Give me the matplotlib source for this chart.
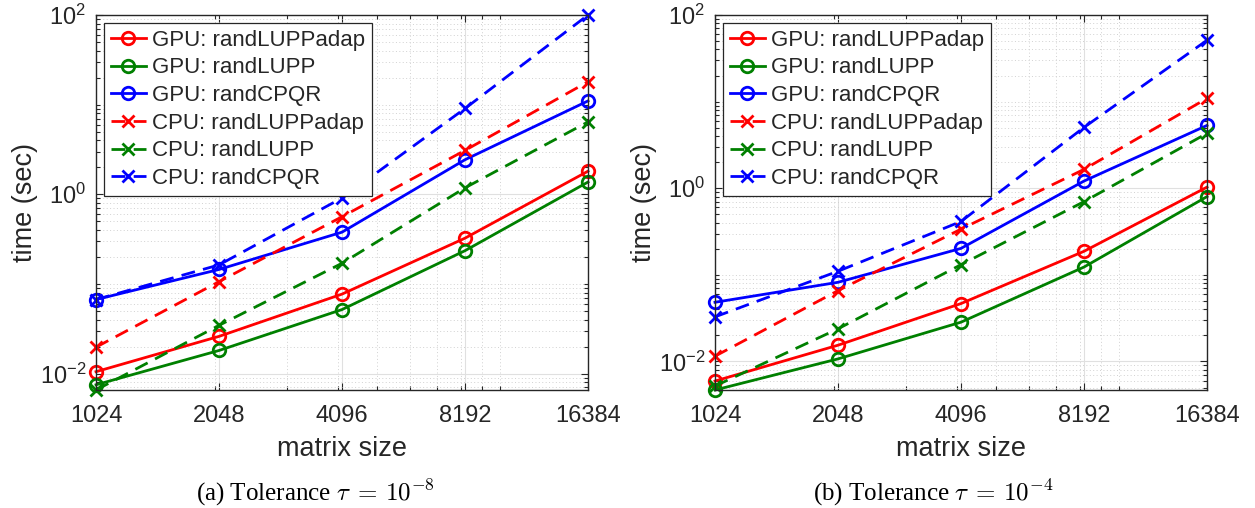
import numpy as np
import matplotlib
matplotlib.use("Agg")
import matplotlib.pyplot as plt
from matplotlib.ticker import (FixedLocator, FixedFormatter, LogLocator,
                               NullFormatter, FuncFormatter)

plt.rcParams['font.family'] = ['Liberation Sans', 'DejaVu Sans']
plt.rcParams['axes.unicode_minus'] = False

# Matrix sizes (x axis)
sizes = [1024, 2048, 4096, 8192, 16384]
size_labels = ['1024', '2048', '4096', '8192', '16384']

# Run times in seconds, tolerance 1e-8
gpu_randluppadap_a = [0.0105, 0.026, 0.077, 0.324, 1.81]
gpu_randlupp_a = [0.0075, 0.0181, 0.0518, 0.235, 1.37]
gpu_randcpqr_a = [0.067, 0.145, 0.378, 2.43, 11.0]
cpu_randluppadap_a = [0.0197, 0.106, 0.562, 3.09, 18.0]
cpu_randlupp_a = [0.00656, 0.0345, 0.170, 1.18, 6.42]
cpu_randcpqr_a = [0.067, 0.163, 0.91, 9.06, 100.0]

# Run times in seconds, tolerance 1e-4
gpu_randluppadap_b = [0.00594, 0.0154, 0.0466, 0.187, 1.03]
gpu_randlupp_b = [0.00468, 0.0107, 0.0284, 0.123, 0.80]
gpu_randcpqr_b = [0.0482, 0.082, 0.202, 1.21, 5.31]
cpu_randluppadap_b = [0.0115, 0.0657, 0.337, 1.65, 10.9]
cpu_randlupp_b = [0.0052, 0.0238, 0.131, 0.70, 4.3]
cpu_randcpqr_b = [0.0327, 0.11, 0.413, 5.04, 51.1]

labels = ['GPU: randLUPPadap', 'GPU: randLUPP', 'GPU: randCPQR',
          'CPU: randLUPPadap', 'CPU: randLUPP', 'CPU: randCPQR']
colors = ['#ff0000', '#008000', '#0000ff', '#ff0000', '#008000', '#0000ff']
captions = [r'(a) Tolerance $\tau\;=\,\mathrm{10}^{-8}$',
            r'(b) Tolerance $\tau\;=\,\mathrm{10}^{-4}$']

panels = [
    [gpu_randluppadap_a, gpu_randlupp_a, gpu_randcpqr_a,
     cpu_randluppadap_a, cpu_randlupp_a, cpu_randcpqr_a],
    [gpu_randluppadap_b, gpu_randlupp_b, gpu_randcpqr_b,
     cpu_randluppadap_b, cpu_randlupp_b, cpu_randcpqr_b],
]

W, H = 1255, 508
fig = plt.figure(figsize=(W / 100, H / 100), dpi=100)

axes_px = [(96, 588), (715, 1207)]
top_px, bottom_px = 15, 390
caption_x = [315, 933]

dark = (0.15, 0.15, 0.15)


def pow10_label(v, pos):
    e = int(round(np.log10(v)))
    return r'$\mathregular{10^{%d}}$' % e


for (x0, x1), series, cap, cx in zip(axes_px, panels, captions, caption_x):
    ax = fig.add_axes([x0 / W, 1 - bottom_px / H, (x1 - x0) / W, (bottom_px - top_px) / H])
    ax.set_xscale('log')
    ax.set_yscale('log')

    for i, (vals, lab, col) in enumerate(zip(series, labels, colors)):
        if i < 3:
            ax.plot(sizes, vals, '-', color=col, lw=2.0, marker='o', ms=9,
                    mfc='none', mew=2.0, label=lab, clip_on=False)
        else:
            ax.plot(sizes, vals, '--', color=col, lw=2.0, marker='x', ms=8,
                    mew=2.0, dashes=(5, 3), label=lab, clip_on=False)

    ymin = min(min(v) for v in series)
    ax.set_xlim(sizes[0], sizes[-1])
    ax.set_ylim(ymin, 100)

    ax.xaxis.set_major_locator(FixedLocator(sizes))
    ax.xaxis.set_major_formatter(FixedFormatter(size_labels))
    ax.xaxis.set_minor_locator(LogLocator(base=10, subs=np.arange(1, 10)))
    ax.xaxis.set_minor_formatter(NullFormatter())
    ax.yaxis.set_major_locator(FixedLocator([1e-2, 1e0, 1e2]))
    ax.yaxis.set_major_formatter(FuncFormatter(pow10_label))
    ax.yaxis.set_minor_locator(LogLocator(base=10, subs=np.arange(1, 10), numticks=30))
    ax.yaxis.set_minor_formatter(NullFormatter())

    ax.tick_params(which='both', direction='in', top=True, right=True,
                   colors=dark, labelsize=17, width=0.8)
    ax.tick_params(which='major', length=5)
    ax.tick_params(which='minor', length=3)
    ax.tick_params(axis='x', which='major', pad=11)
    ax.tick_params(axis='y', which='major', pad=7)

    ax.grid(True, which='major', color=(0.88, 0.88, 0.88), lw=0.8, ls='-')
    ax.grid(True, which='minor', color=(0.82, 0.82, 0.82), lw=0.7, ls=(0, (1, 2.5)))
    ax.set_axisbelow(True)
    for sp in ax.spines.values():
        sp.set_color(dark)
        sp.set_linewidth(1.0)

    ax.set_xlabel('matrix size', fontsize=19.5, color=dark, labelpad=6)
    ax.set_ylabel('time (sec)', fontsize=19.5, color=dark, labelpad=1)

    leg = ax.legend(loc='upper left',
                    bbox_to_anchor=(8 / (x1 - x0), 1 - 8 / (bottom_px - top_px)),
                    borderaxespad=0, fontsize=16, frameon=True, fancybox=False,
                    edgecolor=dark, framealpha=1, handlelength=1.6, handletextpad=0.25,
                    labelspacing=0.3, borderpad=0.3, numpoints=1)
    leg.get_frame().set_linewidth(0.9)
    for t in leg.get_texts():
        t.set_color(dark)

    fig.text(cx / W, 1 - 500 / H, cap, ha='center', va='baseline', fontsize=18,
             family='Liberation Serif', math_fontfamily='cm', color='black')

fig.savefig('out.png', dpi=100)
